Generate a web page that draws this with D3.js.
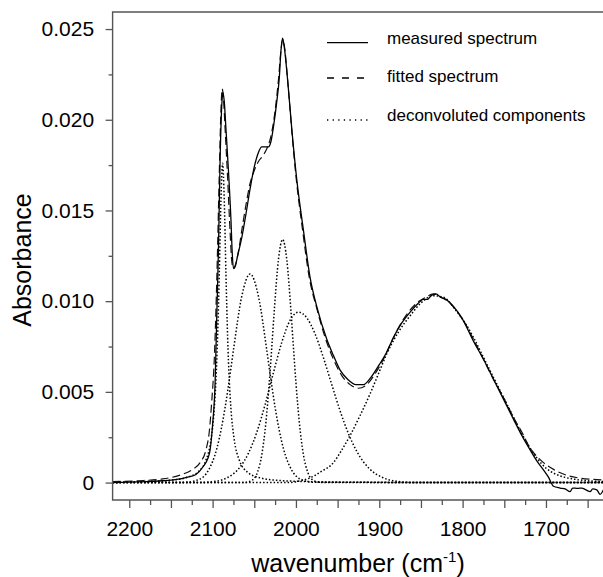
<!DOCTYPE html>
<html>
<head>
<meta charset="utf-8">
<script src="https://cdn.jsdelivr.net/npm/d3@7"></script>
<style>
  body { margin: 0; background: #fff; }
  svg { display: block; font-family: "Liberation Sans", Arial, sans-serif; }
</style>
</head>
<body>
<div id="chart"></div>
<script>
// [wavenumber (cm-1), absorbance]
const measured = [
  [2220, 0], [2200, 0.00003], [2180, 0.00005], [2160, 0.0001], [2145, 0.00016], [2130, 0.0003],
  [2120, 0.00045], [2111, 0.0009], [2106, 0.0013], [2103, 0.0018], [2100, 0.0032], [2097, 0.0055],
  [2095, 0.0092], [2093, 0.0128], [2091, 0.0178], [2089, 0.0208], [2087.5, 0.0215], [2086, 0.021],
  [2084, 0.0195], [2081, 0.0172], [2078, 0.0145], [2076.5, 0.0127], [2075, 0.0118], [2073, 0.0119],
  [2070, 0.0125], [2065, 0.0135], [2060, 0.0148], [2055, 0.0162], [2050, 0.0174], [2045, 0.0182],
  [2041, 0.0185], [2033, 0.0185], [2030, 0.0188], [2027, 0.0196], [2023, 0.021], [2020, 0.0223],
  [2018, 0.0238], [2016, 0.0245], [2014, 0.024], [2010, 0.0222], [2005, 0.0195], [1999, 0.0167],
  [1991, 0.0139], [1983, 0.0113], [1975, 0.0097], [1963, 0.0079], [1955, 0.007], [1947, 0.0062],
  [1938, 0.0057], [1928, 0.0054], [1919, 0.0054], [1910, 0.0058], [1900, 0.0065], [1891, 0.0072],
  [1883, 0.008], [1873, 0.0088], [1863, 0.0094], [1855, 0.0098], [1847, 0.0101], [1842, 0.0101],
  [1838, 0.0103], [1832, 0.0104], [1826, 0.0102], [1820, 0.0101], [1815, 0.0099], [1800, 0.009],
  [1787, 0.0078], [1775, 0.0068], [1763, 0.0057], [1751, 0.0046], [1739, 0.0035], [1729, 0.0026],
  [1719, 0.0018], [1711, 0.0012], [1703, 0.0007], [1697, 0.0003], [1691, -0.0002], [1683, -0.0003],
  [1677, -0.00035], [1671, -0.0005], [1668, -0.0003], [1662, -0.00032], [1657, -0.0003], [1652, -0.0004],
  [1647, -0.0005], [1644, -0.00035], [1639, -0.0004], [1635, -0.00065], [1631, -0.0004]
];

const fitted = [
  [2220, 0.00005], [2190, 0.0001], [2160, 0.0002], [2140, 0.0004], [2125, 0.0007], [2115, 0.0011],
  [2108, 0.0018], [2104, 0.0028], [2101, 0.0045], [2098, 0.0068], [2096, 0.0095], [2094, 0.013],
  [2092, 0.017], [2090, 0.0205], [2088.5, 0.0217], [2087, 0.0212], [2085, 0.0195], [2082, 0.0168],
  [2079, 0.0138], [2077, 0.0122], [2075, 0.0118], [2072, 0.0121], [2068, 0.013], [2065, 0.0139],
  [2060, 0.0153], [2055, 0.0165], [2050, 0.0172], [2045, 0.0177], [2040, 0.018], [2035, 0.0184],
  [2030, 0.0191], [2025, 0.0205], [2021, 0.0222], [2018, 0.0238], [2016, 0.0244], [2014, 0.0241],
  [2010, 0.0222], [2005, 0.0194], [2000, 0.0169], [1992, 0.0139], [1984, 0.0113], [1975, 0.0096],
  [1965, 0.008], [1955, 0.0068], [1945, 0.0059], [1935, 0.0054], [1925, 0.0052], [1915, 0.0054],
  [1905, 0.006], [1895, 0.0068], [1885, 0.0078], [1875, 0.0087], [1865, 0.0094], [1855, 0.0099],
  [1845, 0.0102], [1835, 0.0104], [1825, 0.0102], [1815, 0.0099], [1800, 0.009], [1787, 0.0079],
  [1775, 0.0068], [1763, 0.0057], [1750, 0.0046], [1739, 0.0036], [1728, 0.0027], [1719, 0.0019],
  [1710, 0.0014], [1703, 0.0011], [1690, 0.0007], [1675, 0.0004], [1660, 0.00025], [1645, 0.00018],
  [1630, 0.00015]
];

const comp1 = [
  [2220, 0], [2180, 0.00006], [2150, 0.00013], [2130, 0.0003], [2118, 0.00057], [2108, 0.00124],
  [2102, 0.00235], [2098, 0.00408], [2096, 0.00565], [2094, 0.00804], [2092, 0.01151], [2090, 0.01555],
  [2088, 0.0176], [2086, 0.01555], [2084, 0.01151], [2082, 0.00804], [2080, 0.00565], [2078, 0.00408],
  [2074, 0.00235], [2068, 0.00124], [2058, 0.00057], [2043, 0.00026], [2018, 0.00011], [1968, 0.00004],
  [1900, 0.00001], [1630, 0]
];

const comp2 = [
  [2220, 0], [2135, 0.00001], [2115, 0.0002], [2105, 0.00068], [2095, 0.00187], [2085, 0.00414],
  [2080, 0.00566], [2075, 0.0073], [2065, 0.01027], [2055, 0.0115], [2045, 0.01027], [2035, 0.0073],
  [2030, 0.00566], [2025, 0.00414], [2015, 0.00187], [2005, 0.00068], [1995, 0.0002], [1980, 0.00002],
  [1630, 0]
];

const comp3 = [
  [2220, 0], [2061, 0.00001], [2052, 0.00015], [2046, 0.00059], [2041, 0.00153], [2036, 0.00334],
  [2032, 0.00551], [2029, 0.00745], [2026, 0.00947], [2021, 0.01229], [2016, 0.0134], [2011, 0.01229],
  [2006, 0.00947], [2003, 0.00745], [2000, 0.00551], [1996, 0.00334], [1991, 0.00153], [1986, 0.00059],
  [1980, 0.00015], [1971, 0.00001], [1630, 0]
];

const comp4 = [
  [2220, 0], [2117, 0], [2097, 0.00007], [2082, 0.00028], [2067, 0.00086], [2057, 0.00162],
  [2047, 0.00277], [2037, 0.0043], [2027, 0.00606], [2017, 0.00773], [2007, 0.00895], [1997, 0.0094],
  [1987, 0.00908], [1977, 0.00819], [1967, 0.00688], [1957, 0.0054], [1947, 0.00395], [1937, 0.0027],
  [1927, 0.00172], [1912, 0.00077], [1897, 0.0003], [1877, 0.00006], [1857, 0], [1630, 0]
];

const comp5 = [
  [2220, 0], [2010, 0], [1995, 0.0001], [1983, 0.00026], [1970, 0.0006], [1955, 0.0011],
  [1945, 0.0018], [1935, 0.0026], [1923, 0.0037], [1911, 0.0049], [1901, 0.006], [1891, 0.0071],
  [1877, 0.0083], [1863, 0.0092], [1850, 0.0099], [1835, 0.0103], [1822, 0.0102], [1810, 0.0096],
  [1797, 0.0088], [1787, 0.008], [1775, 0.0069], [1763, 0.0058], [1751, 0.0047], [1739, 0.0036],
  [1729, 0.0027], [1719, 0.0019], [1710, 0.0013], [1700, 0.0008], [1690, 0.0005], [1678, 0.0003],
  [1665, 0.00018], [1650, 0.0001], [1630, 0.00006]
];

const components = [comp1, comp2, comp3, comp4, comp5];

const xMajorTicks = [2200, 2150, 2100, 2050, 2000, 1950, 1900, 1850, 1800, 1750, 1700, 1650];
const xMinorTicks = [2175, 2125, 2075, 2025, 1975, 1925, 1875, 1825, 1775, 1725, 1675];
const xLabelTicks = [2200, 2100, 2000, 1900, 1800, 1700];
const yMajorTicks = [0, 0.005, 0.01, 0.015, 0.02, 0.025];
const yMinorTicks = [0.0025, 0.0075, 0.0125, 0.0175, 0.0225];
const legendLabels = ['measured spectrum', 'fitted spectrum', 'deconvoluted components'];

const width = 603, height = 577;
const plot = { left: 112.6, right: 604.3, top: 12, bottom: 500 };

const svg = d3.select('#chart').append('svg')
  .attr('width', width)
  .attr('height', height);

const x = d3.scaleLinear().domain([2220, 1630]).range([plot.left, plot.right]);
const y = d3.scaleLinear().domain([-0.00096, 0.02594]).range([plot.bottom, plot.top]);

const axisColor = '#555';

svg.append('clipPath').attr('id', 'clip')
  .append('rect')
  .attr('x', plot.left).attr('y', plot.top)
  .attr('width', plot.right - plot.left).attr('height', plot.bottom - plot.top);

const line = d3.line()
  .x(d => x(d[0]))
  .y(d => y(d[1]))
  .curve(d3.curveMonotoneX);

const curves = svg.append('g').attr('clip-path', 'url(#clip)');

// deconvoluted components
curves.selectAll('.comp')
  .data(components)
  .enter()
  .append('path')
  .attr('class', 'comp')
  .attr('d', line)
  .attr('fill', 'none')
  .attr('stroke', '#000')
  .attr('stroke-width', 1.5)
  .attr('stroke-dasharray', '1.5,2');

curves.append('path')
  .attr('d', line(fitted))
  .attr('fill', 'none')
  .attr('stroke', '#111')
  .attr('stroke-width', 1.2)
  .attr('stroke-dasharray', '8,4');

curves.append('path')
  .attr('d', line(measured))
  .attr('fill', 'none')
  .attr('stroke', '#000')
  .attr('stroke-width', 1.3);

// axes
const xAxis = svg.append('g')
  .attr('transform', `translate(0,${plot.bottom})`)
  .call(d3.axisBottom(x)
    .tickValues(xMajorTicks)
    .tickSize(8)
    .tickPadding(13.5)
    .tickFormat(d => xLabelTicks.includes(d) ? d : ''));

const xAxisMinor = svg.append('g')
  .attr('transform', `translate(0,${plot.bottom})`)
  .call(d3.axisBottom(x).tickValues(xMinorTicks).tickSize(5).tickFormat(''));

const yAxis = svg.append('g')
  .attr('transform', `translate(${plot.left},0)`)
  .call(d3.axisLeft(y)
    .tickValues(yMajorTicks)
    .tickSize(7)
    .tickPadding(11.5)
    .tickFormat(d => d === 0 ? '0' : d3.format('.3f')(d)));

const yAxisMinor = svg.append('g')
  .attr('transform', `translate(${plot.left},0)`)
  .call(d3.axisLeft(y).tickValues(yMinorTicks).tickSize(4).tickFormat(''));

[xAxis, xAxisMinor, yAxis, yAxisMinor].forEach(g => {
  g.select('.domain').remove();
  g.selectAll('.tick line').attr('stroke', axisColor).attr('stroke-width', 1.3);
  g.selectAll('.tick text')
    .attr('fill', '#000')
    .style('font-size', '21px')
    .style('font-family', '"Liberation Sans", Arial, sans-serif');
});

// frame: left, top and bottom
svg.append('path')
  .attr('d', `M${width},${plot.top}H${plot.left}V${plot.bottom}H${width}`)
  .attr('fill', 'none')
  .attr('stroke', axisColor)
  .attr('stroke-width', 1.4);

// axis titles
svg.append('text')
  .attr('transform', 'translate(30.5,260) rotate(-90)')
  .attr('text-anchor', 'middle')
  .style('font-size', '25px')
  .text('Absorbance');

const xTitle = svg.append('text')
  .attr('x', 358)
  .attr('y', 572)
  .attr('text-anchor', 'middle')
  .style('font-size', '25px');
xTitle.append('tspan').text('wavenumber (cm');
xTitle.append('tspan').attr('dy', -10).style('font-size', '15px').text('-1');
xTitle.append('tspan').attr('dy', 10).text(')');

// legend
const legendStyles = [
  { dash: null, y: 42.7 },
  { dash: '7,8', y: 78 },
  { dash: '1.3,4.3', y: 120 }
];

const legend = svg.append('g');
legendLabels.forEach((label, i) => {
  const s = legendStyles[i];
  legend.append('line')
    .attr('x1', 327).attr('x2', 368)
    .attr('y1', s.y).attr('y2', s.y)
    .attr('stroke', '#000')
    .attr('stroke-width', 1.3)
    .attr('stroke-dasharray', s.dash);
  legend.append('text')
    .attr('x', 387)
    .attr('y', 43.5 + i * 38.5)
    .style('font-size', '17px')
    .attr('fill', '#000')
    .text(label);
});
</script>
</body>
</html>
